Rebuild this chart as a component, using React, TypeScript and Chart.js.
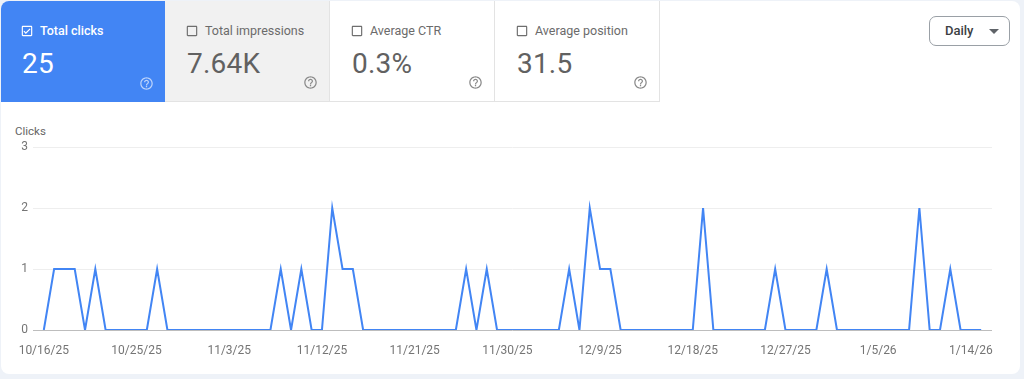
import React, { useEffect, useRef } from 'react';
import { Chart, registerables } from 'chart.js';
Chart.register(...registerables);

// Daily clicks from 10/16/25 to 1/15/26
const clicks: number[] = [
  0, 1, 1, 1, 0, 1, 0, 0, 0, 0,
  0, 1, 0, 0, 0, 0, 0, 0, 0, 0,
  0, 0, 0, 1, 0, 1, 0, 0, 2, 1,
  1, 0, 0, 0, 0, 0, 0, 0, 0, 0,
  0, 1, 0, 1, 0, 0, 0, 0, 0, 0,
  0, 1, 0, 2, 1, 1, 0, 0, 0, 0,
  0, 0, 0, 0, 2, 0, 0, 0, 0, 0,
  0, 1, 0, 0, 0, 0, 1, 0, 0, 0,
  0, 0, 0, 0, 0, 2, 0, 0, 1, 0,
  0, 0,
];
const tickEvery = 9;
const tickLabels: string[] = ['10/16/25', '10/25/25', '11/3/25', '11/12/25', '11/21/25', '11/30/25', '12/9/25', '12/18/25', '12/27/25', '1/5/26', '1/14/26'];
const yTicks: number[] = [0, 1, 2, 3];

const metricTitles: string[] = ['Total clicks', 'Total impressions', 'Average CTR', 'Average position'];
const metricValues: string[] = ['25', '7.64K', '0.3%', '31.5'];
const metricSelected: boolean[] = [true, false, false, false];

const FONT = 'Roboto, "Noto Sans", Arial, sans-serif';

function HelpIcon({ color }: { color: string }) {
  return (
    <svg width="15" height="15" viewBox="0 0 24 24" style={{ position: 'absolute', right: 11, bottom: 11 }}>
      <path fill={color} d="M11 18h2v-2h-2v2zm1-16C6.48 2 2 6.48 2 12s4.48 10 10 10 10-4.48 10-10S17.52 2 12 2zm0 18c-4.41 0-8-3.59-8-8s3.59-8 8-8 8 3.59 8 8-3.59 8-8 8zm0-14c-2.21 0-4 1.790-4 4h2c0-1.1.9-2 2-2s2 .9 2 2c0 2-3 1.75-3 5h2c0-2.25 3-2.5 3-5 0-2.210-1.79-4-4-4z" />
    </svg>
  );
}

function CheckBox({ checked, color }: { checked: boolean; color: string }) {
  return (
    <svg width="14" height="14" viewBox="0 0 24 24" style={{ position: 'absolute', left: 20, top: 24 }}>
      {checked ? (
        <path fill={color} d="M19 3H5c-1.11 0-2 .9-2 2v14c0 1.1.89 2 2 2h14c1.11 0 2-.9 2-2V5c0-1.1-.89-2-2-2zm0 16H5V5h14v14zM17.99 9l-1.41-1.420-6.59 6.590-2.58-2.570-1.420 1.410 4 3.990z" />
      ) : (
        <path fill={color} d="M19 5v14H5V5h14m0-2H5c-1.1 0-2 .9-2 2v14c0 1.1.9 2 2 2h14c1.1 0 2-.9 2-2V5c0-1.1-.9-2-2-2z" />
      )}
    </svg>
  );
}

export default function App() {
  const canvasRef = useRef<HTMLCanvasElement | null>(null);

  useEffect(() => {
    document.body.style.margin = '0';
    const ctx = canvasRef.current;
    if (!ctx) return;
    const chart = new Chart(ctx, {
      type: 'line',
      data: {
        datasets: [
          {
            label: 'Clicks',
            data: clicks.map((v, i) => ({ x: i, y: v })),
            borderColor: '#4285f4',
            borderWidth: 2,
            pointRadius: 0,
            pointHoverRadius: 0,
            tension: 0,
            fill: false,
          },
        ],
      },
      options: {
        responsive: false,
        animation: false,
        parsing: false as any,
        layout: { padding: { top: 17, right: 8, bottom: 0, left: 0 } },
        plugins: { legend: { display: false }, tooltip: { enabled: false } },
        scales: {
          x: {
            type: 'linear',
            min: -1.05,
            max: 92.05,
            grid: { display: false },
            border: { display: false },
            afterBuildTicks: (axis: any) => {
              axis.ticks = tickLabels.map((_, i) => ({ value: i * tickEvery }));
            },
            afterFit: (axis: any) => {
              axis.height = 40;
              axis.paddingLeft = 0;
              axis.paddingRight = 0;
            },
            ticks: {
              autoSkip: false,
              maxRotation: 0,
              padding: 6,
              color: '#757575',
              font: { family: FONT, size: 12 },
              callback: (value: any) => tickLabels[Math.round(Number(value) / tickEvery)] ?? '',
            },
          },
          y: {
            min: 0,
            max: 3,
            afterBuildTicks: (axis: any) => {
              axis.ticks = yTicks.map((v) => ({ value: v }));
            },
            afterFit: (axis: any) => {
              axis.width = 33;
              axis.paddingTop = 0;
              axis.paddingBottom = 0;
            },
            grid: {
              drawTicks: false,
              color: (c: any) => (c.tick && c.tick.value === 0 ? '#bdbdbd' : '#eeeeee'),
              lineWidth: 1,
            },
            border: { display: false },
            ticks: {
              padding: 5,
              color: '#757575',
              font: { family: FONT, size: 12 },
            },
          },
        },
      },
    });
    return () => chart.destroy();
  }, []);

  return (
    <div style={{ position: 'fixed', left: 0, top: 0, width: 1024, height: 379, background: '#eef2f8', fontFamily: FONT, overflow: 'hidden' }}>
      <div style={{ position: 'absolute', left: 1, top: 1, width: 1019, height: 373, background: '#ffffff', borderRadius: 8, overflow: 'hidden' }}>
        {metricTitles.map((t, i) => {
          const sel = metricSelected[i];
          const bg = sel ? '#4285f4' : i === 1 ? '#f1f1f1' : '#ffffff';
          const fg = sel ? '#ffffff' : '#5f6368';
          return (
            <div
              key={t}
              style={{
                position: 'absolute',
                left: i * 165 - 1,
                top: -1,
                width: 165,
                height: 102,
                background: bg,
                boxSizing: 'border-box',
                borderRight: sel ? 'none' : '1px solid #e3e3e3',
                borderBottom: sel ? 'none' : '1px solid #e3e3e3',
                color: fg,
              }}
            >
              <CheckBox checked={sel} color={sel ? '#ffffff' : '#6e6e6e'} />
              <div style={{ position: 'absolute', left: 40, top: 23, fontSize: 12.5, fontWeight: sel ? 500 : 400, whiteSpace: 'nowrap', color: sel ? '#ffffff' : '#6b6b6b' }}>{t}</div>
              <div style={{ position: 'absolute', left: 22, top: 47, fontSize: 28, fontWeight: 400, color: sel ? '#ffffff' : '#616161', letterSpacing: 0.2 }}>{metricValues[i]}</div>
              <HelpIcon color={sel ? '#bcd3fb' : '#8a8a8a'} />
            </div>
          );
        })}
        <div
          style={{
            position: 'absolute',
            left: 928,
            top: 15,
            width: 81,
            height: 30,
            boxSizing: 'border-box',
            border: '1px solid #9aa0a6',
            borderRadius: 7,
            color: '#3c4043',
            fontSize: 13,
            fontWeight: 500,
          }}
        >
          <span style={{ position: 'absolute', left: 15, top: 6 }}>Daily</span>
          <svg width="10" height="5" viewBox="0 0 10 5" style={{ position: 'absolute', left: 59, top: 12 }}>
            <path d="M0 0 L10 0 L5 5 Z" fill="#5f6368" />
          </svg>
        </div>
        <div style={{ position: 'absolute', left: 14, top: 123, fontSize: 11.5, color: '#666666' }}>Clicks</div>
      </div>
      <canvas ref={canvasRef} width={1000} height={240} style={{ position: 'absolute', left: 0, top: 130, width: 1000, height: 240 }} />
    </div>
  );
}
